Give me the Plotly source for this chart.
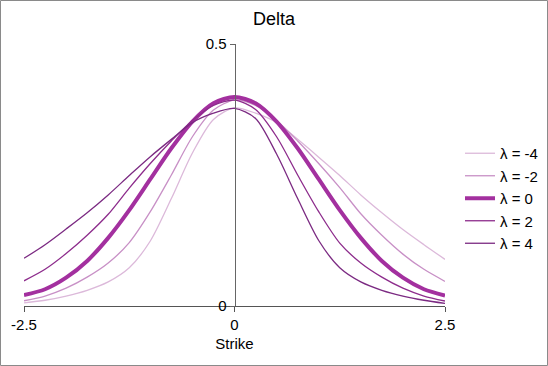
import plotly.graph_objects as go

# strike grid and curve values
strike = [-2.5, -2.25, -2.0, -1.75, -1.5, -1.25, -1.0, -0.75, -0.5, -0.25, 0.0,
          0.25, 0.5, 0.75, 1.0, 1.25, 1.5, 1.75, 2.0, 2.25, 2.5]

delta_m4 = [0.006, 0.011, 0.019, 0.030, 0.046, 0.073, 0.124, 0.205, 0.292, 0.356, 0.378,
            0.368, 0.350, 0.318, 0.284, 0.249, 0.212, 0.178, 0.146, 0.117, 0.089]
delta_m2 = [0.010, 0.019, 0.034, 0.055, 0.082, 0.121, 0.180, 0.250, 0.323, 0.374, 0.393,
            0.383, 0.354, 0.315, 0.272, 0.226, 0.176, 0.135, 0.099, 0.070, 0.047]
delta_0 = [0.021, 0.032, 0.054, 0.086, 0.130, 0.183, 0.242, 0.301, 0.352, 0.387, 0.399,
           0.387, 0.352, 0.301, 0.242, 0.183, 0.130, 0.086, 0.054, 0.032, 0.020]
delta_p2 = [0.048, 0.070, 0.100, 0.135, 0.175, 0.225, 0.272, 0.315, 0.354, 0.383, 0.393,
            0.375, 0.323, 0.250, 0.180, 0.120, 0.082, 0.055, 0.034, 0.019, 0.0095]
delta_p4 = [0.091, 0.117, 0.147, 0.178, 0.212, 0.249, 0.285, 0.318, 0.350, 0.368, 0.377,
            0.358, 0.290, 0.205, 0.125, 0.073, 0.046, 0.030, 0.019, 0.011, 0.005]

series = [
    ("λ = -4", delta_m4, "#dcb9da", 1.3),
    ("λ = -2", delta_m2, "#c890c6", 1.3),
    ("λ = 0", delta_0, "#a3309f", 4),
    ("λ = 2", delta_p2, "#8d2c8c", 1.3),
    ("λ = 4", delta_p4, "#7b2a82", 1.3),
]

fig = go.Figure()
for name, vals, col, w in series:
    fig.add_trace(go.Scatter(x=strike, y=vals, name=name, mode="lines",
                             line=dict(color=col, width=w, shape="spline", smoothing=0.8)))

fig.update_layout(
    width=548, height=366,
    margin=dict(l=24, r=103, t=44, b=60, autoexpand=False),
    paper_bgcolor="white", plot_bgcolor="white",
    font=dict(family="Liberation Sans, Arial, sans-serif", size=15, color="black"),
    title=dict(text="Delta", x=0.5, xref="container", xanchor="center", y=0.948, yanchor="middle",
               font=dict(size=18)),
    legend=dict(x=(460 - 24) / 421, xanchor="left", y=(306 - 137) / 262, yanchor="top",
                tracegroupgap=0, font=dict(size=15), itemwidth=30, bgcolor="rgba(0,0,0,0)"),
    showlegend=True,
)
fig.update_xaxes(range=[-2.5, 2.5], tickvals=[-2.5, 0, 2.5], ticktext=["-2.5", "0", "2.5"],
                 showgrid=False, zeroline=False, showline=True, linecolor="#555555", linewidth=1,
                 ticks="outside", ticklen=5, tickcolor="#555555",
                 title=dict(text="Strike", standoff=6, font=dict(size=15)))
fig.update_yaxes(range=[0, 0.5], tickvals=[0, 0.5], ticktext=["0", "0.5"],
                 showgrid=False, zeroline=False, showline=True, linecolor="#666666", linewidth=1,
                 ticks="outside", ticklen=5, tickcolor="#666666",
                 anchor="free", position=0.5)

# thin grey frame around the whole picture
fig.add_shape(type="rect", xref="paper", yref="paper",
              x0=(0.5 - 24) / 421, x1=(547.5 - 24) / 421,
              y0=(306 - 365.5) / 262, y1=(306 - 0.5) / 262,
              line=dict(color="#8a8a8a", width=1))

fig.write_html("out.html", config={"displayModeBar": False},
               post_script="document.body.style.margin='0';")
